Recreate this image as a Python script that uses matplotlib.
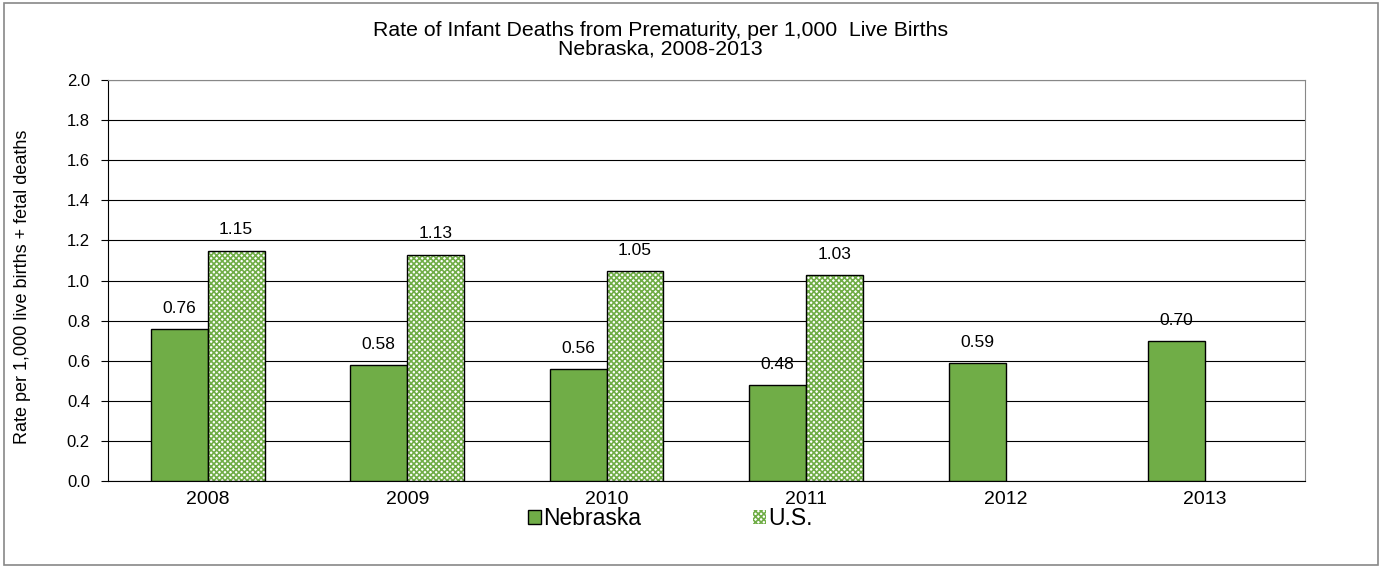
import numpy as np
import matplotlib.pyplot as plt
from matplotlib.patches import Patch, Rectangle

plt.rcParams['font.family'] = ['Liberation Sans', 'DejaVu Sans']
plt.rcParams['hatch.linewidth'] = 1.2

years = ['2008', '2009', '2010', '2011', '2012', '2013']
nebraska = [0.76, 0.58, 0.56, 0.48, 0.59, 0.70]
us = [1.15, 1.13, 1.05, 1.03, None, None]

green = '#70AD47'

fig = plt.figure(figsize=(13.85, 5.68), dpi=100)
ax = fig.add_axes([0.078, 0.153, 0.864, 0.706])

x = np.arange(len(years))
w = 0.285

# Nebraska bars
ax.bar(x - w / 2, nebraska, w, color=green, edgecolor='black', linewidth=1, zorder=3)
for xi, v in zip(x - w / 2, nebraska):
    ax.text(xi, v + 0.065, f'{v:.2f}', ha='center', va='bottom', fontsize=12.5)

# U.S. bars (hatched), only where data exists
us_x = [xi for xi, v in zip(x + w / 2, us) if v is not None]
us_v = [v for v in us if v is not None]
ax.bar(us_x, us_v, w, color='white', hatch='xxxxxx', edgecolor=green, linewidth=0, zorder=3)
ax.bar(us_x, us_v, w, color='none', edgecolor='black', linewidth=1, zorder=4)
for xi, v in zip(us_x, us_v):
    ax.text(xi, v + 0.065, f'{v:.2f}', ha='center', va='bottom', fontsize=12.5)

ax.set_xlim(-0.5, len(years) - 0.5)
ax.set_ylim(0, 2.0)
yt = np.arange(0, 2.01, 0.2)
ax.set_yticks(yt)
ax.set_yticklabels([f'{t:.1f}' for t in yt], fontsize=12)
ax.set_xticks(x)
ax.set_xticklabels(years, fontsize=14)
ax.tick_params(axis='x', length=0, pad=7)
ax.tick_params(axis='y', length=5, direction='out', pad=8)
ax.grid(axis='y', color='black', linewidth=0.8, zorder=0)
ax.set_axisbelow(True)
ax.spines['top'].set_color('#888888')
ax.spines['right'].set_color('#888888')
ax.spines['left'].set_color('black')
ax.spines['bottom'].set_color('black')

fig.text(0.016, 0.495, 'Rate per 1,000 live births + fetal deaths', rotation=90,
         ha='center', va='center', fontsize=13)

fig.text(0.477, 0.947, 'Rate of Infant Deaths from Prematurity, per 1,000  Live Births',
         ha='center', va='center', fontsize=15.3)
fig.text(0.477, 0.914, 'Nebraska, 2008-2013', ha='center', va='center', fontsize=15.3)

handles = [Patch(facecolor=green, edgecolor='black', linewidth=1),
           Patch(facecolor='white', edgecolor=green, hatch='xxxxxx', linewidth=0)]
fig.legend(handles, ['Nebraska', 'U.S.'], loc='center', bbox_to_anchor=(0.484, 0.087),
           ncol=2, frameon=False, fontsize=16.5, handlelength=0.55, handleheight=0.55,
           handletextpad=0.1, columnspacing=4.9)

fig.add_artist(Rectangle((0.003, 0.005), 0.992, 0.99, transform=fig.transFigure,
                         fill=False, edgecolor='#888888', linewidth=1.2))

fig.savefig('out.png', dpi=100)
